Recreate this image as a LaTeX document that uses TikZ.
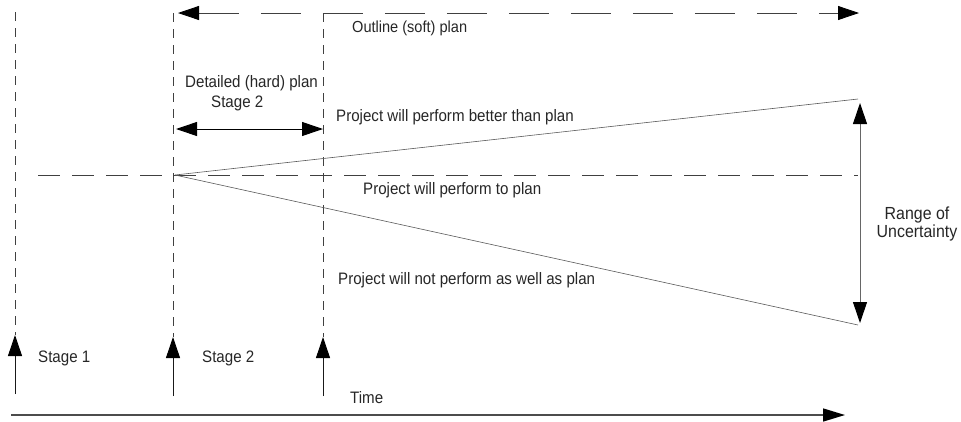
\documentclass[tikz,border=0pt]{standalone}
\usepackage{fontspec}
\setmainfont{Liberation Sans}[FakeStretch=0.91]
\usetikzlibrary{arrows.meta}
\begin{document}
\begin{tikzpicture}[x=1pt,y=-1pt,
  font=\fontsize{16.6}{18}\selectfont,
  lbl/.style={inner sep=0pt,anchor=west,text=black!85},
  tipend/.style={-{Triangle[length=21pt,width=14pt,color=black]}},
  bothtip/.style={{Triangle[length=21pt,width=14pt,color=black]}-{Triangle[length=21pt,width=14pt,color=black]}},
  vdash/.style={draw=black!75,line width=0.8pt,dash pattern=on 9pt off 7pt},
  hdash/.style={draw=black!75,line width=0.8pt,dash pattern=on 22pt off 12pt},
  tdash/.style={draw=black!75,line width=0.8pt,dash pattern=on 40pt off 22pt},
  fan/.style={draw=black!65,line width=0.6pt},
  stagearrow/.style={tipend,draw=black!90,line width=0.9pt}
]
\useasboundingbox (0,0) rectangle (961,421);

% key coordinates
\coordinate (v1top) at (15,12);
\coordinate (v1bot) at (15,335);
\coordinate (v1base) at (15,394);
\coordinate (v2top) at (173,13);
\coordinate (v2bot) at (173,337);
\coordinate (v2base) at (173,396);
\coordinate (v3top) at (323,13);
\coordinate (v3bot) at (323,337);
\coordinate (v3base) at (323,396);
\coordinate (topL) at (178,13);
\coordinate (topR) at (859,13);
\coordinate (planL) at (38,175);
\coordinate (planR) at (858,175);
\coordinate (origin) at (175,175);
\coordinate (best) at (858,99);
\coordinate (worst) at (858,325);
\coordinate (rangeTop) at (860,103);
\coordinate (rangeBot) at (860,323);
\coordinate (hardL) at (176,129);
\coordinate (hardR) at (323,129);
\coordinate (timeL) at (11,415);
\coordinate (timeR) at (845,415);

% dashed verticals
\draw[vdash] (v1top) -- (v1bot);
\draw[vdash] (v2top) -- (v2bot);
\draw[vdash] (v3top) -- (v3bot);

% stage arrows
\draw[stagearrow] (v1base) -- (v1bot);
\draw[stagearrow] (v2base) -- (v2bot);
\draw[stagearrow] (v3base) -- (v3bot);

% outline plan arrow
\draw[tdash,bothtip] (topL) -- (topR);

% plan line
\draw[hdash] (planL) -- (planR);

% fan
\draw[fan] (origin) -- (best);
\draw[fan] (origin) -- (worst);

% range of uncertainty
\draw[bothtip,draw=black!60,line width=1pt] (rangeTop) -- (rangeBot);

% detailed plan arrow
\draw[bothtip,draw=black,line width=1pt] (hardL) -- (hardR);

% time axis
\draw[-{Triangle[length=22pt,width=13pt,color=black]},draw=black!70,line width=1.5pt] (timeL) -- (timeR);

% labels
\node[lbl,font=\fontsize{16}{18}\selectfont] (outline) at (352,28) {Outline (soft) plan};
\node[lbl] (detailed) at (185,83) {Detailed (hard) plan};
\node[lbl] (stagetwoA) at (211,103) {Stage 2};
\node[lbl] (better) at (336,117) {Project will perform better than plan};
\node[lbl] (toplan) at (363,190) {Project will perform to plan};
\node[lbl] (notwell) at (338,280) {Project will not perform as well as plan};
\node[lbl] (stageone) at (38,358) {Stage 1};
\node[lbl] (stagetwoB) at (202,358) {Stage 2};
\node[lbl] (time) at (350,398) {Time};
\node[inner sep=0pt,align=center,text=black!85,font=\fontsize{17.5}{18}\selectfont] (range) at (917,224) {Range of\\Uncertainty};
\end{tikzpicture}
\end{document}
